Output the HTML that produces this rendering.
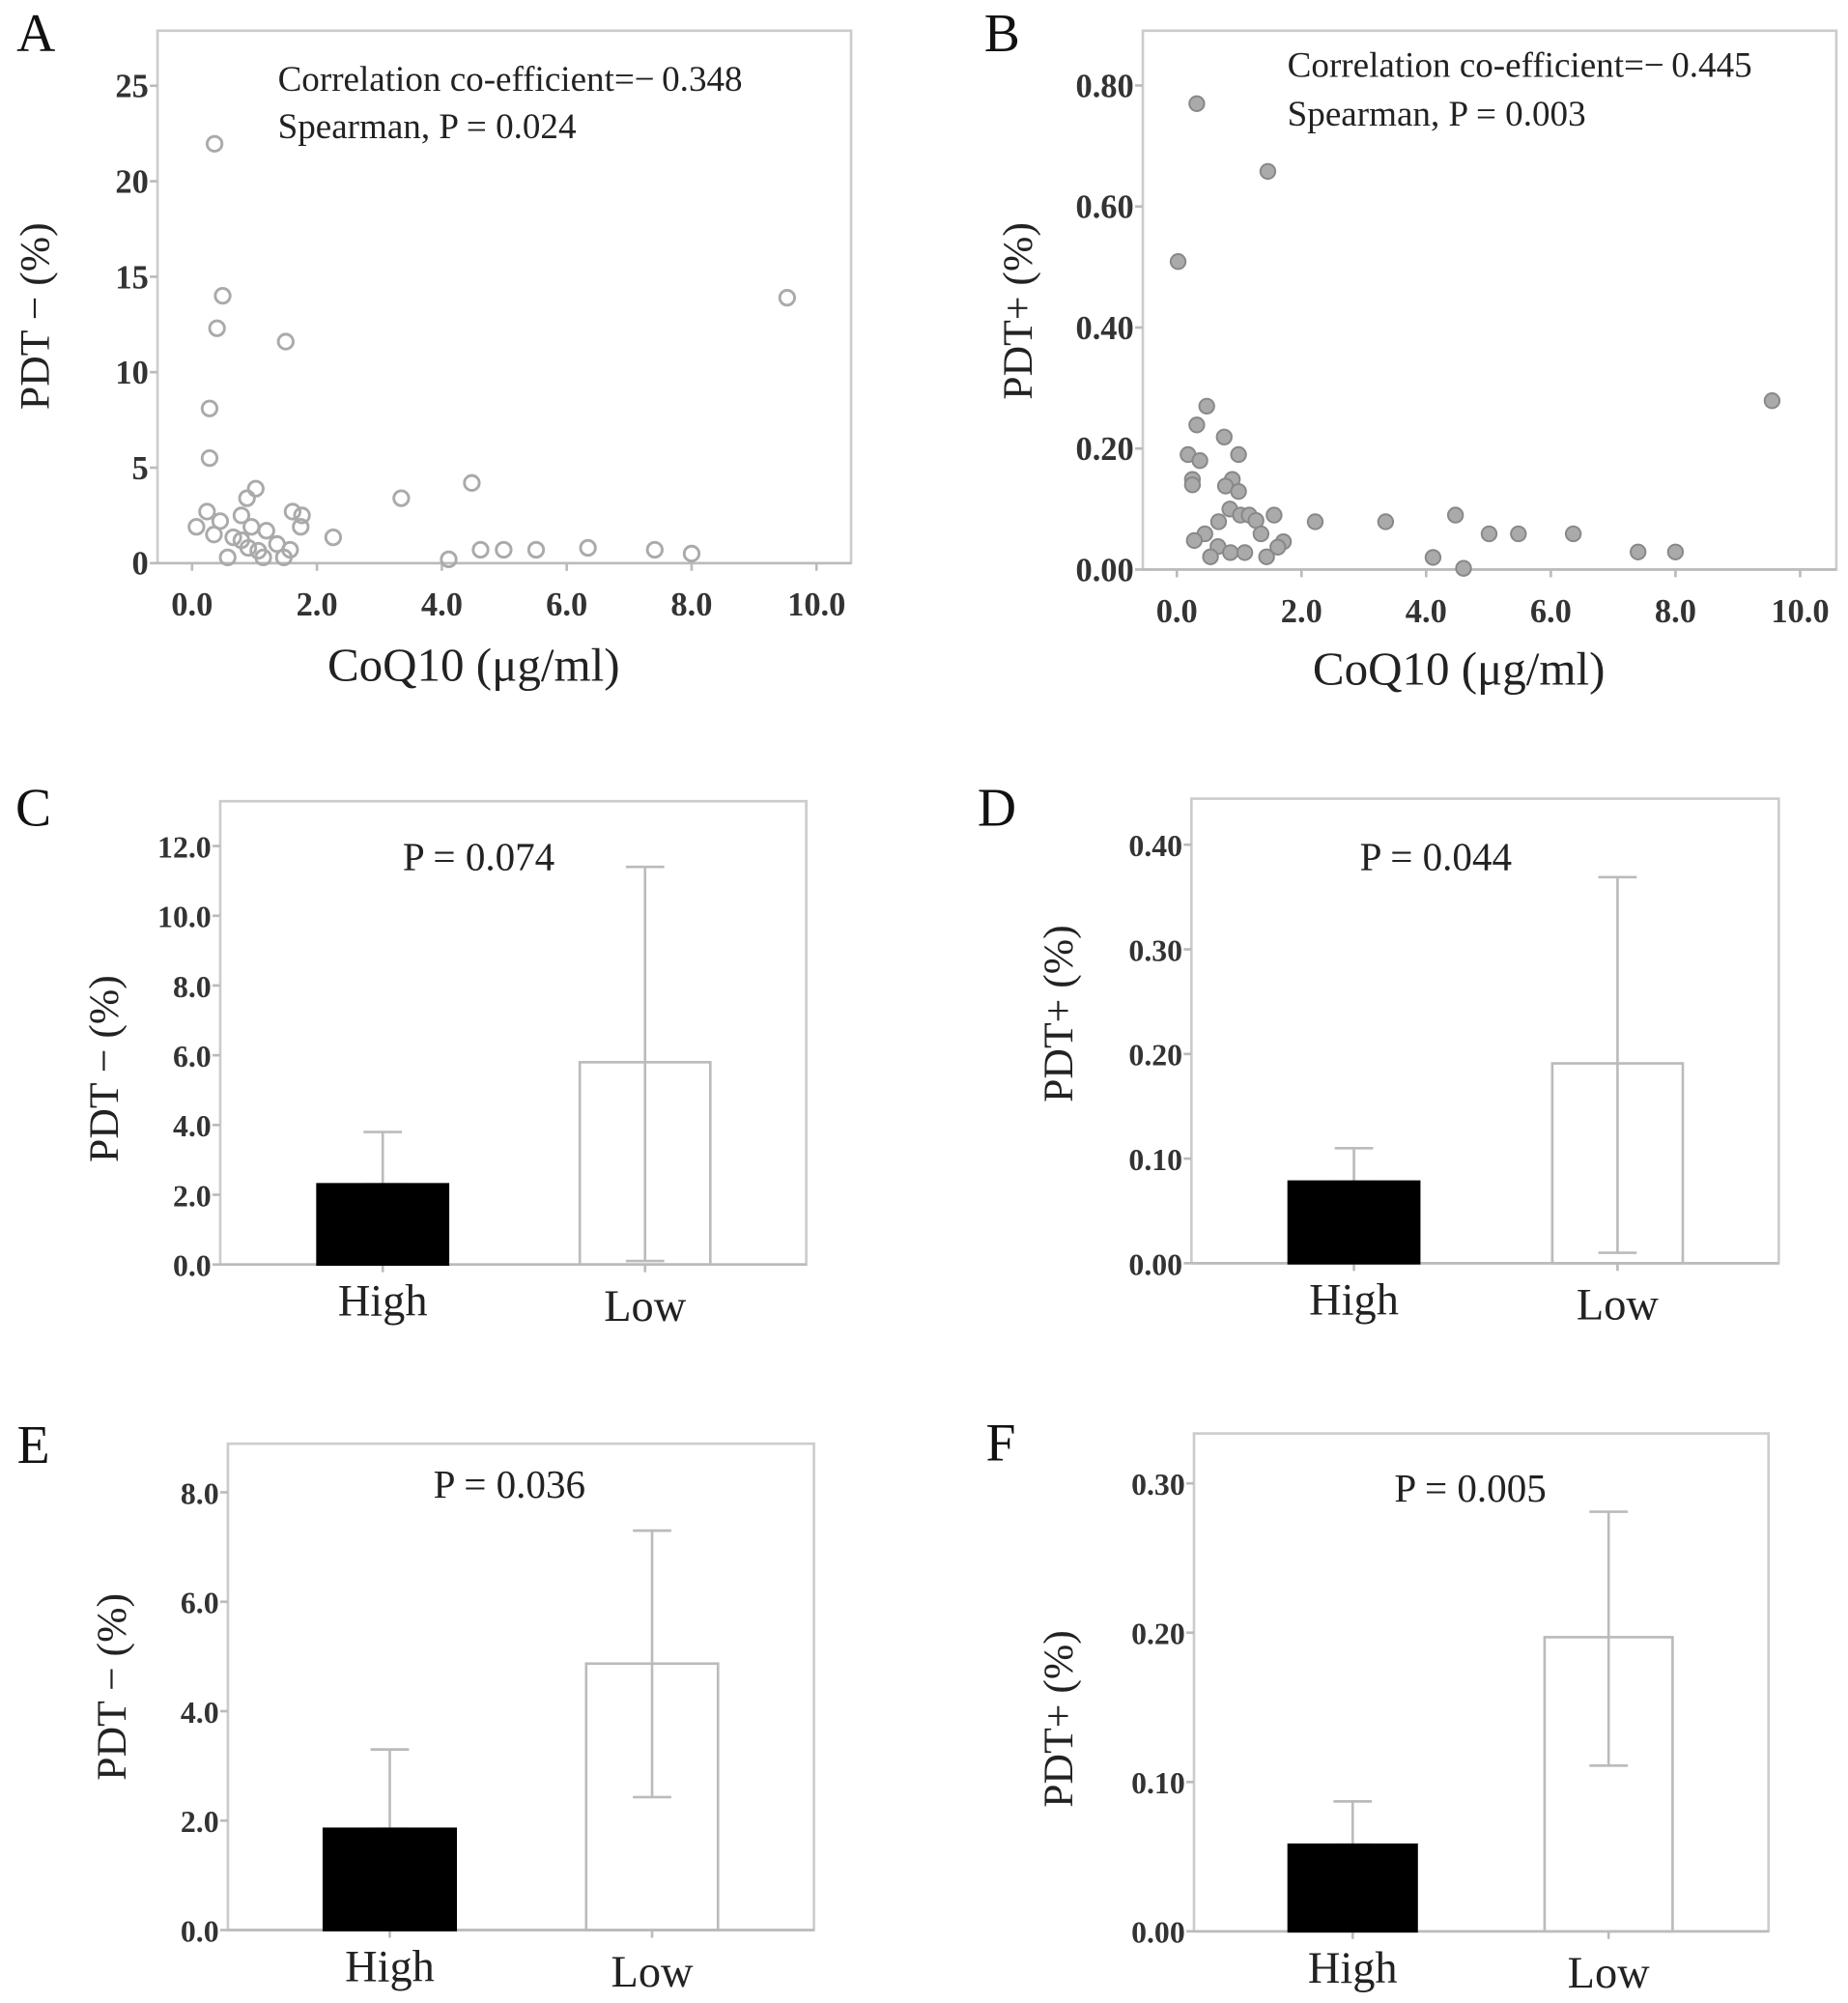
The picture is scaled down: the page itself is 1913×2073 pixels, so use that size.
<!DOCTYPE html>
<html><head><meta charset="utf-8"><style>
html,body{margin:0;padding:0;background:#fff;}
svg{display:block;font-family:"Liberation Serif",serif;}
</style></head><body>
<svg id="fig" width="1913" height="2073" viewBox="0 0 1444 1565" xmlns="http://www.w3.org/2000/svg"></svg>
<script>
// Panel A data
const aX=[0.36,0.49,0.40,1.50,0.28,0.28,9.53,4.48,3.35,1.02,0.88,0.24,0.45,0.07,0.35,0.79,1.61,1.76,1.74,0.95,1.19,0.66,0.79,0.90,1.06,1.36,1.57,0.57,1.14,1.47,2.26,4.11,4.62,4.99,5.51,6.34,7.41,8.0];
const aY=[21.96,14.0,12.3,11.6,8.1,5.5,13.9,4.2,3.4,3.9,3.4,2.7,2.2,1.9,1.5,2.5,2.7,2.5,1.9,1.9,1.7,1.35,1.2,0.8,0.65,1.0,0.7,0.3,0.3,0.3,1.35,0.2,0.7,0.7,0.7,0.8,0.7,0.5];
// Panel B data
const bX=[0.32,1.46,0.02,9.55,0.48,0.32,0.76,0.18,0.37,0.99,0.25,0.25,0.89,0.78,0.99,0.85,1.02,1.16,1.27,1.56,0.67,1.35,0.45,0.28,0.66,1.71,1.62,0.54,0.86,1.09,1.44,2.22,3.35,4.47,5.01,5.48,6.36,4.11,4.60,7.40,8.0];
const bY=[0.77,0.658,0.509,0.279,0.27,0.239,0.219,0.19,0.18,0.19,0.149,0.14,0.149,0.138,0.129,0.10,0.09,0.09,0.081,0.09,0.079,0.059,0.059,0.048,0.038,0.046,0.037,0.021,0.028,0.028,0.021,0.079,0.079,0.09,0.059,0.059,0.059,0.02,0.002,0.029,0.029];
const scatterXTicks=[0,2,4,6,8,10];
const aYTicks=[0,5,10,15,20,25];
const bYTicks=[0,0.2,0.4,0.6,0.8];
// Bar panels
const groups=["High","Low"];
const cMean=[2.3,5.8], cLo=[2.3,0.1], cHi=[3.8,11.4];
const dMean=[0.078,0.191], dLo=[0.078,0.01], dHi=[0.11,0.369];
const eMean=[1.85,4.87], eLo=[1.85,2.43], eHi=[3.3,7.3];
const fMean=[0.058,0.197], fLo=[0.058,0.111], fHi=[0.087,0.281];
const cTicks=[0,2,4,6,8,10,12], dTicks=[0,0.1,0.2,0.3,0.4], eTicks=[0,2,4,6,8], fTicks=[0,0.1,0.2,0.3];

const svg=document.getElementById('fig');
const NS='http://www.w3.org/2000/svg';
function mk(tag,attrs,parent,text){const e=document.createElementNS(NS,tag);for(const k in attrs)e.setAttribute(k,attrs[k]);if(text!==undefined)e.textContent=text;(parent||svg).appendChild(e);return e;}
function lin(d0,d1,r0,r1){return v=>r0+(v-d0)/(d1-d0)*(r1-r0);}

function frame(g,L,T,R,B){
  const r=mk('rect',{x:L,y:T,width:R-L,height:B-T,fill:'none',stroke:'#ccc','stroke-width':2},g);
  
  
}
function yAxis(g,ticks,ys,L,dec,fs){
  ticks.forEach(t=>{
    const y=ys(t);
    mk('line',{x1:L-6,x2:L,y1:y,y2:y,stroke:'#bbb','stroke-width':2},g);
    const tx=mk('text',{x:L-7,y:y+9,'text-anchor':'end','font-size':fs,'font-weight':'bold',fill:'#333'},g,t.toFixed(dec));
    
    
  });
}
function label(txt,x,y,fs,name,rot,anchor){
  const a={x:x,y:y,'font-size':fs,fill:'#222','text-anchor':anchor||'middle'};
  if(rot)a.transform='rotate(-90 '+x+' '+y+')';
  const t=mk('text',a,svg,txt);
  
  
  return t;
}

function scatter(name,xs,ys,X,Y,yT,ydec,filled,o){
  const g=mk('g',{});
  
  
  frame(g,o.L,o.T,o.R,o.B);
  mk('line',{x1:o.L,x2:o.R,y1:o.B,y2:o.B,stroke:'#bbb','stroke-width':2},g);
  yAxis(g,yT,Y,o.L,ydec,26);
  scatterXTicks.forEach(t=>{
    const x=X(t);
    mk('line',{x1:x,x2:x,y1:o.B,y2:o.B+6,stroke:'#bbb','stroke-width':2},g);
    const tx=mk('text',{x:x,y:o.B+41,'text-anchor':'middle','font-size':26,'font-weight':'bold',fill:'#333'},g,t.toFixed(1));
    
    
  });
  xs.forEach((v,i)=>{
    const c=mk('circle',{cx:X(v),cy:Y(ys[i]),r:5.8,fill:filled?'#aaa':'none',stroke:filled?'#888':'#aaa','stroke-width':filled?1.5:2.2},g);
    
    
  });
}

scatter('scatter-a',aX,aY,lin(0,10,150,638),lin(0,25,440,67),aYTicks,0,false,{L:123,T:24,R:665,B:440});
scatter('scatter-b',bX,bY,lin(0,10,919.6,1406.7),lin(0,0.8,445,66.8),bYTicks,2,true,{L:893,T:24,R:1435,B:445});

label('Correlation co-efficient=\u2212\u20090.348',217,71,28,'annotation-corr-a',false,'start');
label('Spearman, P = 0.024',217,108,28,'annotation-p-a',false,'start');
label('Correlation co-efficient=\u2212\u20090.445',1006,60,28,'annotation-corr-b',false,'start');
label('Spearman, P = 0.003',1006,98,28,'annotation-p-b',false,'start');
label('CoQ10 (\u03bcg/ml)',370,532,37,'x-axis-title-a');
label('CoQ10 (\u03bcg/ml)',1140,535,37,'x-axis-title-b');
label('PDT \u2212 (%)',38,247,33,'y-axis-title-a',true);
label('PDT+ (%)',806,243,33,'y-axis-title-b',true);

function bars(name,mean,lo,hi,ticks,dec,ymax,o){
  const g=mk('g',{});
  
  
  const Y=lin(0,ymax,o.B,o.yTop);
  frame(g,o.L,o.T,o.R,o.B);
  mk('line',{x1:o.L,x2:o.R,y1:o.B,y2:o.B,stroke:'#bbb','stroke-width':2},g);
  yAxis(g,ticks,Y,o.L,dec,24);
  groups.forEach((gname,i)=>{
    const x0=o.bx[i], w=o.bw, cx=x0+w/2;
    const eb=mk('g',{stroke:'#bbb','stroke-width':2},g);
    
    
    mk('line',{x1:cx,x2:cx,y1:Y(hi[i]),y2:Y(lo[i])},eb);
    mk('line',{x1:cx-15,x2:cx+15,y1:Y(hi[i]),y2:Y(hi[i])},eb);
    mk('line',{x1:cx-15,x2:cx+15,y1:Y(lo[i]),y2:Y(lo[i])},eb);
    mk('line',{x1:cx,x2:cx,y1:o.B,y2:o.B+6},eb);
    const r=mk('rect',{x:x0,y:Y(mean[i]),width:w,height:o.B-Y(mean[i]),fill:i==0?'#000':'none',stroke:i==0?'#000':'#bbb','stroke-width':2},g);
    
    
    const t=mk('text',{x:cx,y:o.B+(i==0?40:44),'text-anchor':'middle','font-size':35,fill:'#222'},g,gname);
    
    
  });
}
bars('bar-chart-c',cMean,cLo,cHi,cTicks,1,12,{L:172,T:626,R:630,B:988,yTop:661,bx:[248,453],bw:102});
bars('bar-chart-d',dMean,dLo,dHi,dTicks,2,0.4,{L:931,T:624,R:1390,B:987,yTop:660,bx:[1007,1213],bw:102});
bars('bar-chart-e',eMean,eLo,eHi,eTicks,1,8,{L:178,T:1128,R:636,B:1508,yTop:1166,bx:[253,458],bw:103});
bars('bar-chart-f',fMean,fLo,fHi,fTicks,2,0.3,{L:933,T:1120,R:1382,B:1509,yTop:1159,bx:[1007,1207],bw:100});

label('P = 0.074',374,680,31,'p-value-c');
label('P = 0.044',1122,680,31,'p-value-d');
label('P = 0.036',398,1170,31,'p-value-e');
label('P = 0.005',1149,1173,31,'p-value-f');
label('PDT \u2212 (%)',92,835,33,'y-axis-title-c',true);
label('PDT+ (%)',838,792,33,'y-axis-title-d',true);
label('PDT \u2212 (%)',98,1318,33,'y-axis-title-e',true);
label('PDT+ (%)',838,1343,33,'y-axis-title-f',true);

[['A',28,40],['B',783,40],['C',26,645],['D',779,645],['E',26,1143],['F',782,1141]].forEach(p=>{
  const t=mk('text',{x:p[1],y:p[2],'text-anchor':'middle','font-size':42,fill:'#111'},svg,p[0]);
  
  
});
</script>
</body></html>
